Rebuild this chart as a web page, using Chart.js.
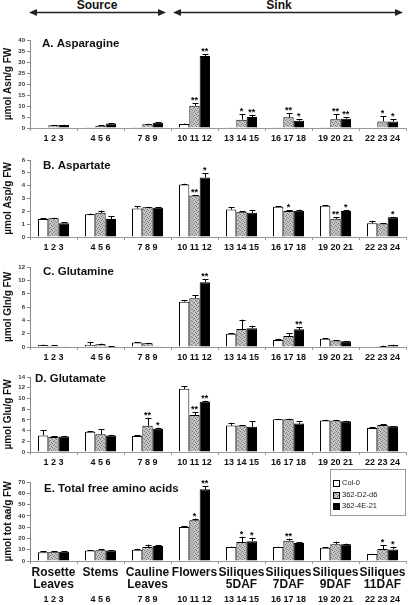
<!DOCTYPE html>
<html>
<head>
<meta charset="utf-8">
<script src="https://cdn.jsdelivr.net/npm/chart.js@4.4.1/dist/chart.umd.min.js"></script>
<style>
  body { margin:0; background:#fff; width:416px; height:605px; position:relative; overflow:hidden; }
  canvas { position:absolute; left:0; }
</style>
</head>
<body>
<svg width="416" height="20" style="position:absolute;left:0;top:0">
  <g font-family="Liberation Sans, Arial, sans-serif" font-weight="bold" font-size="12" text-anchor="middle" fill="#111">
    <text x="97" y="9">Source</text>
    <text x="279" y="9">Sink</text>
  </g>
  <g stroke="#222" stroke-width="1.5">
    <line x1="36" y1="12.5" x2="159" y2="12.5"/>
    <line x1="180" y1="12.5" x2="396" y2="12.5"/>
  </g>
  <g fill="#222">
    <polygon points="29,12.5 37,9 37,16"/>
    <polygon points="166,12.5 158,9 158,16"/>
    <polygon points="173,12.5 181,9 181,16"/>
    <polygon points="403,12.5 395,9 395,16"/>
  </g>
</svg>
<script>
Chart.defaults.font.family = '"Liberation Sans", Arial, sans-serif';

const seriesNames = ["Col-0", "362-D2-d6", "362-4E-21"];
const groupNums = ["1 2 3", "4 5 6", "7 8 9", "10 11 12", "13 14 15", "16 17 18", "19 20 21", "22 23 24"];
const organNames = [["Rosette", "Leaves"], ["Stems"], ["Cauline", "Leaves"], ["Flowers"],
                    ["Siliques", "5DAF"], ["Siliques", "7DAF"], ["Siliques", "9DAF"], ["Siliques", "11DAF"]];

// --- A. Asparagine ---
const asnCol = [0.1, 0.3, 0.3, 1.8, 0.3, 0.3, 0.3, 0.2];
const asnD2  = [1.3, 1.0, 1.7, 10.1, 3.8, 4.9, 4.0, 3.0];
const asn4E  = [1.4, 2.1, 2.4, 32.7, 5.0, 3.3, 4.2, 3.0];
const asnErrCol = [0, 0, 0, 0.2, 0, 0, 0, 0];
const asnErrD2  = [0.1, 0.2, 0.2, 1.3, 2.5, 1.7, 2.2, 2.4];
const asnErr4E  = [0.1, 0.1, 0.3, 0.9, 0.8, 0.8, 0.6, 0.9];
const asnStarsD2 = ["", "", "", "**", "*", "**", "**", "*"];
const asnStars4E = ["", "", "", "**", "**", "*", "**", "*"];

// --- B. Aspartate ---
const aspCol = [1.40, 1.78, 2.22, 4.10, 2.15, 2.35, 2.43, 1.08];
const aspD2  = [1.47, 1.88, 2.32, 3.23, 1.96, 2.02, 1.42, 1.06];
const asp4E  = [1.08, 1.40, 2.27, 4.63, 1.88, 2.04, 2.02, 1.53];
const aspErrCol = [0.07, 0.05, 0.2, 0.05, 0.18, 0.03, 0.05, 0.18];
const aspErrD2  = [0.03, 0.18, 0.03, 0.03, 0.03, 0.05, 0.1, 0.03];
const aspErr4E  = [0.05, 0.2, 0.05, 0.35, 0.23, 0.1, 0.05, 0.05];
const aspStarsD2 = ["", "", "", "**", "", "*", "**", ""];
const aspStars4E = ["", "", "", "*", "", "", "*", "*"];

// --- C. Glutamine ---
const glnCol = [0.31, 0.31, 0.67, 6.8, 2.0, 1.04, 1.25, 0.02];
const glnD2  = [0.2, 0.4, 0.57, 7.3, 2.7, 1.66, 0.99, 0.15];
const gln4E  = [0.02, 0.1, 0.02, 9.7, 2.8, 2.65, 0.88, 0.3];
const glnErrCol = [0.05, 0.47, 0.05, 0.2, 0.05, 0.2, 0.05, 0];
const glnErrD2  = [0.08, 0.1, 0.05, 0.5, 1.4, 0.4, 0.05, 0.05];
const glnErr4E  = [0, 0.02, 0, 0.5, 0.4, 0.35, 0.05, 0.05];
const glnStarsD2 = ["", "", "", "", "", "", "", ""];
const glnStars4E = ["", "", "", "**", "", "**", "", ""];

// --- D. Glutamate ---
const gluCol = [3.1, 3.8, 3.0, 11.8, 4.95, 6.1, 5.9, 4.5];
const gluD2  = [2.8, 3.3, 4.9, 6.9, 4.95, 6.1, 5.9, 5.05];
const glu4E  = [2.9, 3.1, 4.35, 9.4, 4.7, 5.3, 5.75, 4.8];
const gluErrCol = [0.95, 0.15, 0.1, 0.45, 0.5, 0.1, 0.1, 0.2];
const gluErrD2  = [0.2, 0.95, 1.5, 0.55, 0.05, 0.1, 0.1, 0.1];
const gluErr4E  = [0.1, 0.1, 0.2, 0.2, 1.0, 0.4, 0.1, 0.05];
const gluStarsD2 = ["", "", "**", "**", "", "", "", ""];
const gluStars4E = ["", "", "*", "**", "", "", "", ""];

// --- E. Total free amino acids ---
const totCol = [7.7, 9.2, 10.0, 30.1, 12.4, 12.4, 11.8, 6.2];
const totD2  = [8.3, 9.5, 12.4, 36.0, 16.8, 18.0, 14.8, 10.6];
const tot4E  = [8.3, 9.2, 13.3, 63.5, 17.4, 15.9, 14.8, 10.3];
const totErrCol = [0.9, 0.3, 0.9, 0.5, 0.2, 0.2, 0.6, 0.2];
const totErrD2  = [0.3, 0.9, 2.1, 1.5, 4.7, 1.8, 2.4, 3.2];
const totErr4E  = [0.2, 0.5, 0.6, 2.7, 3.2, 0.6, 0.6, 2.4];
const totStarsD2 = ["", "", "", "*", "*", "**", "", "*"];
const totStars4E = ["", "", "", "**", "*", "", "", "*"];

// stippled grey fill for the 362-D2-d6 bars
function stipple() {
    const c = document.createElement("canvas");
    c.width = 4; c.height = 4;
    const g = c.getContext("2d");
    g.fillStyle = "#c6c6c6"; g.fillRect(0, 0, 4, 4);
    g.fillStyle = "#787878";
    [[0,0],[2,1],[1,2],[3,3]].forEach(p => g.fillRect(p[0], p[1], 1, 1));
    return g.createPattern(c, "repeat");
}
const greyFill = stipple();
const seriesFill = ["#ffffff", greyFill, "#000000"];

// --- plugins ---
const errorBars = {
    id: "errorBars",
    afterDatasetsDraw(chart) {
        const ctx = chart.ctx, y = chart.scales.y;
        ctx.save();
        ctx.strokeStyle = "#000"; ctx.lineWidth = 1;
        ctx.fillStyle = "#000";
        ctx.font = 'bold 9px "Liberation Sans", Arial';
        ctx.textAlign = "center"; ctx.textBaseline = "bottom";
        chart.data.datasets.forEach((ds, i) => {
            chart.getDatasetMeta(i).data.forEach((bar, j) => {
                const e = ds.err[j] || 0;
                const top = y.getPixelForValue(ds.data[j] + e);
                const x = Math.round(bar.x) + 0.5;
                if (e > 0) {
                    ctx.beginPath();
                    ctx.moveTo(x, bar.y); ctx.lineTo(x, top);
                    ctx.moveTo(x - 3, Math.round(top) + 0.5); ctx.lineTo(x + 3, Math.round(top) + 0.5);
                    ctx.stroke();
                }
                if (ds.stars[j]) ctx.fillText(ds.stars[j], bar.x, top + 2);
            });
        });
        ctx.restore();
    }
};

const panelTitle = {
    id: "panelTitle",
    afterDraw(chart, args, o) {
        const ctx = chart.ctx;
        ctx.save();
        ctx.fillStyle = "#111";
        ctx.font = 'bold 11.5px "Liberation Sans", Arial';
        ctx.textBaseline = "middle";
        ctx.fillText(o.text, o.x, chart.chartArea.top + o.dy);
        ctx.restore();
    }
};

const numRow = {
    id: "numRow",
    afterDraw(chart, args, o) {
        if (!o.show) return;
        const ctx = chart.ctx, xs = chart.scales.x;
        ctx.save();
        ctx.fillStyle = "#111";
        ctx.font = 'bold 9px "Liberation Sans", Arial';
        ctx.textAlign = "center"; ctx.textBaseline = "middle";
        groupNums.forEach((t, j) => ctx.fillText(t, xs.getPixelForValue(j), chart.chartArea.bottom + 39));
        ctx.restore();
    }
};

const boxLegend = {
    id: "boxLegend",
    afterDraw(chart, args, o) {
        if (!o.show) return;
        const ctx = chart.ctx, a = chart.chartArea;
        const x = a.right - 76, y0 = a.top - 13;
        ctx.save();
        ctx.strokeStyle = "#999"; ctx.lineWidth = 1;
        ctx.strokeRect(x + 0.5, y0 + 0.5, 75, 46);
        ctx.font = '7.5px "Liberation Sans", Arial';
        ctx.textBaseline = "middle";
        chart.data.datasets.forEach((ds, i) => {
            const yy = Math.round(y0 + 14 + i * 11.5);
            ctx.fillStyle = ds.backgroundColor;
            ctx.fillRect(x + 3, yy - 3, 6, 6);
            ctx.strokeStyle = "#000";
            ctx.strokeRect(x + 3.5, yy - 2.5, 6, 6);
            ctx.fillStyle = "#222";
            ctx.fillText(ds.label, x + 12, yy);
        });
        ctx.restore();
    }
};

// --- panels ---
const panels = [
    { title: "A. Asparagine", yTitle: "µmol Asn/g FW", max: 40, step: 5, top: 30, padTop: 10, plotH: 88, xH: 18, tx: 42, ty: 4,
      vals: [asnCol, asnD2, asn4E], errs: [asnErrCol, asnErrD2, asnErr4E], stars: [[], asnStarsD2, asnStars4E] },
    { title: "B. Aspartate", yTitle: "µmol Asp/g FW", max: 6, step: 1, top: 150, padTop: 10, plotH: 77, xH: 18, tx: 43, ty: 6,
      vals: [aspCol, aspD2, asp4E], errs: [aspErrCol, aspErrD2, aspErr4E], stars: [[], aspStarsD2, aspStars4E] },
    { title: "C. Glutamine", yTitle: "µmol Gln/g FW", max: 12, step: 2, top: 257, padTop: 10, plotH: 80, xH: 18, tx: 43, ty: 5,
      vals: [glnCol, glnD2, gln4E], errs: [glnErrCol, glnErrD2, glnErr4E], stars: [[], glnStarsD2, glnStars4E] },
    { title: "D. Glutamate", yTitle: "µmol Glu/g FW", max: 14, step: 2, top: 367, padTop: 10, plotH: 75, xH: 18, tx: 35, ty: 2,
      vals: [gluCol, gluD2, glu4E], errs: [gluErrCol, gluErrD2, gluErr4E], stars: [[], gluStarsD2, gluStars4E] },
    { title: "E. Total free amino acids", yTitle: "µmol tot aa/g FW", max: 70, step: 10, top: 462, padTop: 20, plotH: 79, xH: 44, tx: 44, ty: 7,
      vals: [totCol, totD2, tot4E], errs: [totErrCol, totErrD2, totErr4E], stars: [[], totStarsD2, totStars4E], last: true }
];

function makePanel(p) {
    const cv = document.createElement("canvas");
    cv.width = 416;
    cv.height = p.padTop + p.plotH + p.xH;
    cv.style.top = p.top + "px";
    document.body.appendChild(cv);

    const datasets = seriesNames.map((name, i) => ({
        label: name,
        data: p.vals[i],
        err: p.errs[i],
        stars: p.stars[i],
        backgroundColor: seriesFill[i],
        borderColor: "#000",
        borderWidth: 1,
        categoryPercentage: 0.66,
        barPercentage: 1.0
    }));

    new Chart(cv, {
        type: "bar",
        data: { labels: p.last ? organNames : groupNums, datasets },
        options: {
            responsive: false,
            animation: false,
            layout: { padding: { top: p.padTop, right: 10, left: 0, bottom: 0 } },
            plugins: {
                legend: { display: false },
                tooltip: { enabled: false },
                panelTitle: { text: p.title, x: p.tx, dy: p.ty },
                numRow: { show: !!p.last },
                boxLegend: { show: !!p.last }
            },
            scales: {
                x: {
                    offset: true,
                    grid: { offset: true, drawOnChartArea: false, color: "#999", tickLength: 3 },
                    border: { color: "#999" },
                    ticks: {
                        color: "#111", padding: 2, maxRotation: 0, autoSkip: false,
                        font: p.last ? { size: 12, weight: "bold", lineHeight: 1.05 } : { size: 9, weight: "bold" }
                    },
                    afterFit(s) { s.height = p.xH; }
                },
                y: {
                    min: 0, max: p.max,
                    ticks: { stepSize: p.step, color: "#333", padding: 2, font: { size: 6, weight: "bold" } },
                    grid: { drawOnChartArea: false, color: "#888", tickLength: 3 },
                    border: { color: "#888" },
                    title: { display: true, text: p.yTitle, color: "#111", padding: { top: 2, bottom: 0 },
                             font: { size: 10, weight: "bold" } },
                    afterFit(s) { s.width = 30; }
                }
            }
        },
        plugins: [errorBars, panelTitle, numRow, boxLegend]
    });
}

panels.forEach(makePanel);
</script>
</body>
</html>
